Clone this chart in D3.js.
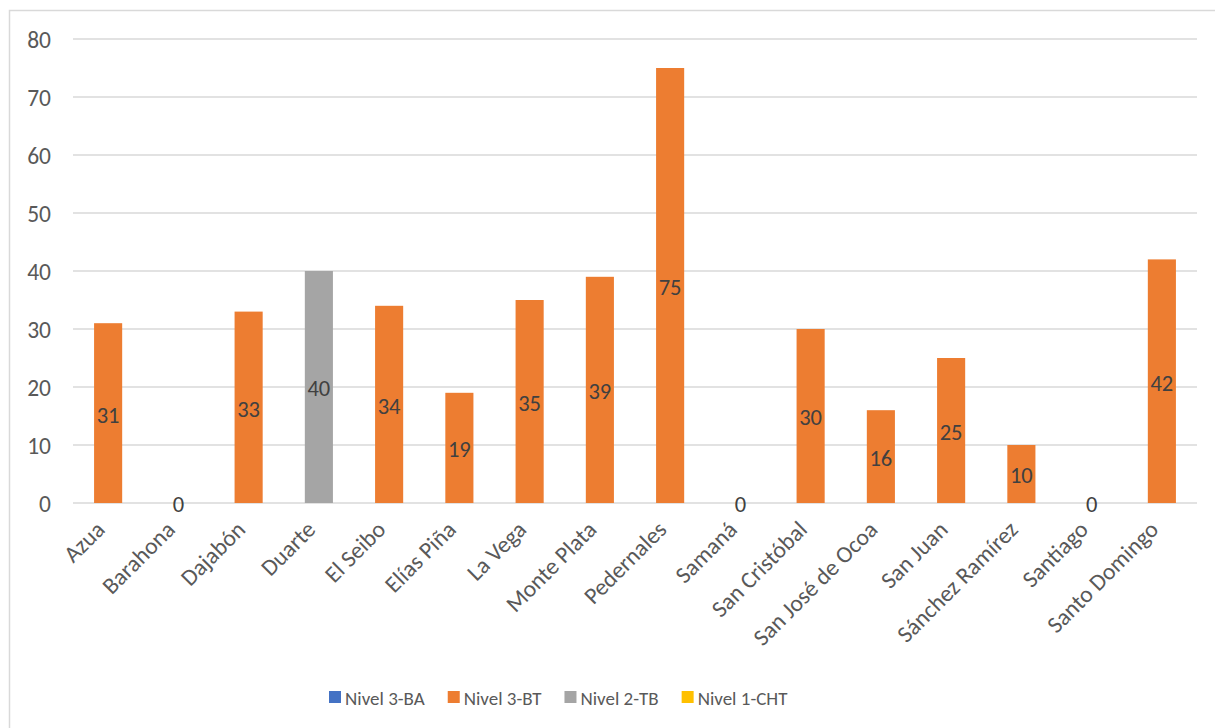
<!DOCTYPE html>
<html><head><meta charset="utf-8">
<script src="https://cdn.jsdelivr.net/npm/d3@7"></script>
<style>body{margin:0;background:#fff;} text{font-family:Carlito,'Liberation Sans Narrow',Roboto,sans-serif;}</style>
</head><body><svg id="c" width="1215" height="728"></svg>
<script>
const categories = ["Azua","Barahona","Dajabón","Duarte","El Seibo","Elías Piña","La Vega","Monte Plata","Pedernales","Samaná","San Cristóbal","San José de Ocoa","San Juan","Sánchez Ramírez","Santiago","Santo Domingo"];
const seriesNames = ["Nivel 3-BA","Nivel 3-BT","Nivel 2-TB","Nivel 1-CHT"];
const nivel3BA  = [null,null,null,null,null,null,null,null,null,null,null,null,null,null,null,null];
const nivel3BT  = [31,0,33,null,34,19,35,39,75,0,30,16,25,10,0,42];
const nivel2TB  = [null,null,null,40,null,null,null,null,null,null,null,null,null,null,null,null];
const nivel1CHT = [null,null,null,null,null,null,null,null,null,null,null,null,null,null,null,null];
const yTicks = [0,10,20,30,40,50,60,70,80];
const colors = ["#4472C4","#ED7D31","#A5A5A5","#FFC000"];
const seriesValues = [nivel3BA,nivel3BT,nivel2TB,nivel1CHT];

const svg = d3.select("#c");
svg.append("rect").attr("x",9.5).attr("y",10.5).attr("width",1240).attr("height",740)
  .attr("fill","none").attr("stroke","#d9d9d9").attr("stroke-width",1.5);

const pL=73, pR=1197, pT=39, pB=503;
const x = d3.scaleBand().domain(categories).range([pL,pR]).paddingInner(0.6).paddingOuter(0.3);
const y = d3.scaleLinear().domain([0,80]).range([pB,pT]);

// gridlines
svg.append("g").selectAll("line").data(yTicks).join("line")
  .attr("x1",pL).attr("x2",pR).attr("y1",d=>y(d)).attr("y2",d=>y(d))
  .attr("stroke","#d9d9d9").attr("stroke-width",1.5);

// y axis labels
const yAxis = d3.axisLeft(y).tickValues(yTicks).tickSize(0).tickPadding(0);
const gy = svg.append("g").attr("transform",`translate(51,0)`).call(yAxis);
gy.select(".domain").remove();
gy.selectAll("text").attr("fill","#595959").style("font-size","23.5px").attr("dy","0.35em");

// stack
const table = categories.map((c,i)=>{const o={cat:c}; seriesNames.forEach((s,j)=>o[s]=seriesValues[j][i]); return o;});
const stack = d3.stack().keys(seriesNames).value((d,k)=>d[k]||0)(table);
stack.forEach((layer,j)=>{
  const g = svg.append("g");
  layer.forEach((seg,i)=>{
    const v = seriesValues[j][i];
    if (v===null) return;
    const cx = x(categories[i]);
    if (v>0) g.append("rect").attr("x",cx).attr("width",x.bandwidth())
      .attr("y",y(seg[1])).attr("height",y(seg[0])-y(seg[1])).attr("fill",colors[j]);
    g.append("text").attr("x",cx+x.bandwidth()/2).attr("y",(y(seg[0])+y(seg[1]))/2)
      .attr("dy","0.42em").attr("text-anchor","middle").attr("fill","#404040")
      .style("font-size","22.5px").text(v);
  });
});

// x labels
const xAxis = d3.axisBottom(x).tickSize(0).tickPadding(0);
const gx = svg.append("g").attr("transform",`translate(0,${pB})`).call(xAxis);
gx.select(".domain").remove();
gx.selectAll("text").attr("fill","#595959").style("font-size","23.5px")
  .attr("text-anchor","end").attr("dy","0").attr("y",0)
  .attr("transform","translate(-2,28) rotate(-45)");

// legend
const lg = svg.append("g");
let lxPos = 329;
seriesNames.forEach((s,j)=>{
  lg.append("rect").attr("x",lxPos).attr("y",691).attr("width",12).attr("height",12).attr("fill",colors[j]);
  const t = lg.append("text").attr("x",lxPos+16).attr("y",705).attr("fill","#595959")
    .style("font-size","19px").text(s);
  lxPos += 16 + t.node().getComputedTextLength() + 23;
});
</script></body></html>
